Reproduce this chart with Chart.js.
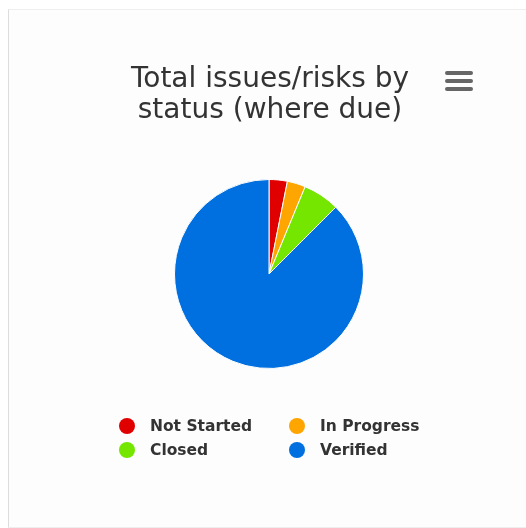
<!DOCTYPE html>
<html>
<head>
<meta charset="utf-8">
<script src="https://cdn.jsdelivr.net/npm/chart.js@4.4.0/dist/chart.umd.min.js"></script>
<style>
  html, body { margin: 0; padding: 0; background: #fff; overflow: hidden; }
  .card {
    position: absolute; left: 8px; top: 9px; width: 530px; height: 517px;
    background: #fdfdfd; border-left: 1px solid #ddd; border-top: 1px solid #eee; border-bottom: 1px solid #eee;
  }
  .wrap { position: absolute; left: 9px; top: 10px; width: 517px; height: 517px; }
</style>
</head>
<body>
<div class="card"></div>
<div class="wrap"><canvas id="myChart"></canvas></div>
<script>
const statuses = ["Not Started", "In Progress", "Closed", "Verified"];
const counts = [2, 2, 4, 56];
const colors = ["#e10000", "#ffa500", "#74e600", "#0070e0"];
const titleLines = ["Total issues/risks by", "status (where due)"];

// title, menu icon and a two-column legend, drawn on the canvas
const extras = {
  id: "extras",
  afterDraw(chart) {
    const ctx = chart.ctx;
    ctx.save();
    ctx.fillStyle = "#333";
    ctx.textAlign = "center";
    ctx.textBaseline = "alphabetic";
    ctx.font = "28px 'DejaVu Sans'";
    ctx.fillText(titleLines[0], 261, 77);
    ctx.fillText(titleLines[1], 261, 108);

    ctx.strokeStyle = "#666";
    ctx.lineWidth = 4;
    ctx.lineCap = "round";
    [63, 71, 79].forEach((y) => {
      ctx.beginPath();
      ctx.moveTo(438, y);
      ctx.lineTo(462, y);
      ctx.stroke();
    });

    ctx.font = "bold 15.5px 'DejaVu Sans'";
    ctx.textAlign = "left";
    ctx.textBaseline = "middle";
    statuses.forEach((s, i) => {
      const x = i % 2 === 0 ? 118 : 288;
      const y = i < 2 ? 416 : 440;
      ctx.fillStyle = colors[i];
      ctx.beginPath();
      ctx.arc(x, y, 8, 0, Math.PI * 2);
      ctx.fill();
      ctx.fillStyle = "#333";
      ctx.fillText(s, x + 23, y + 1);
    });
    ctx.restore();
  },
};

new Chart(document.getElementById("myChart"), {
  type: "pie",
  data: {
    labels: statuses,
    datasets: [
      {
        data: counts,
        backgroundColor: colors,
        borderColor: "#fdfdfd",
        borderWidth: 1,
      },
    ],
  },
  options: {
    maintainAspectRatio: false,
    animation: false,
    layout: { padding: { left: 165, top: 169, right: 162, bottom: 158 } },
    plugins: { legend: { display: false }, title: { display: false }, tooltip: { enabled: false } },
  },
  plugins: [extras],
});
</script>
</body>
</html>
